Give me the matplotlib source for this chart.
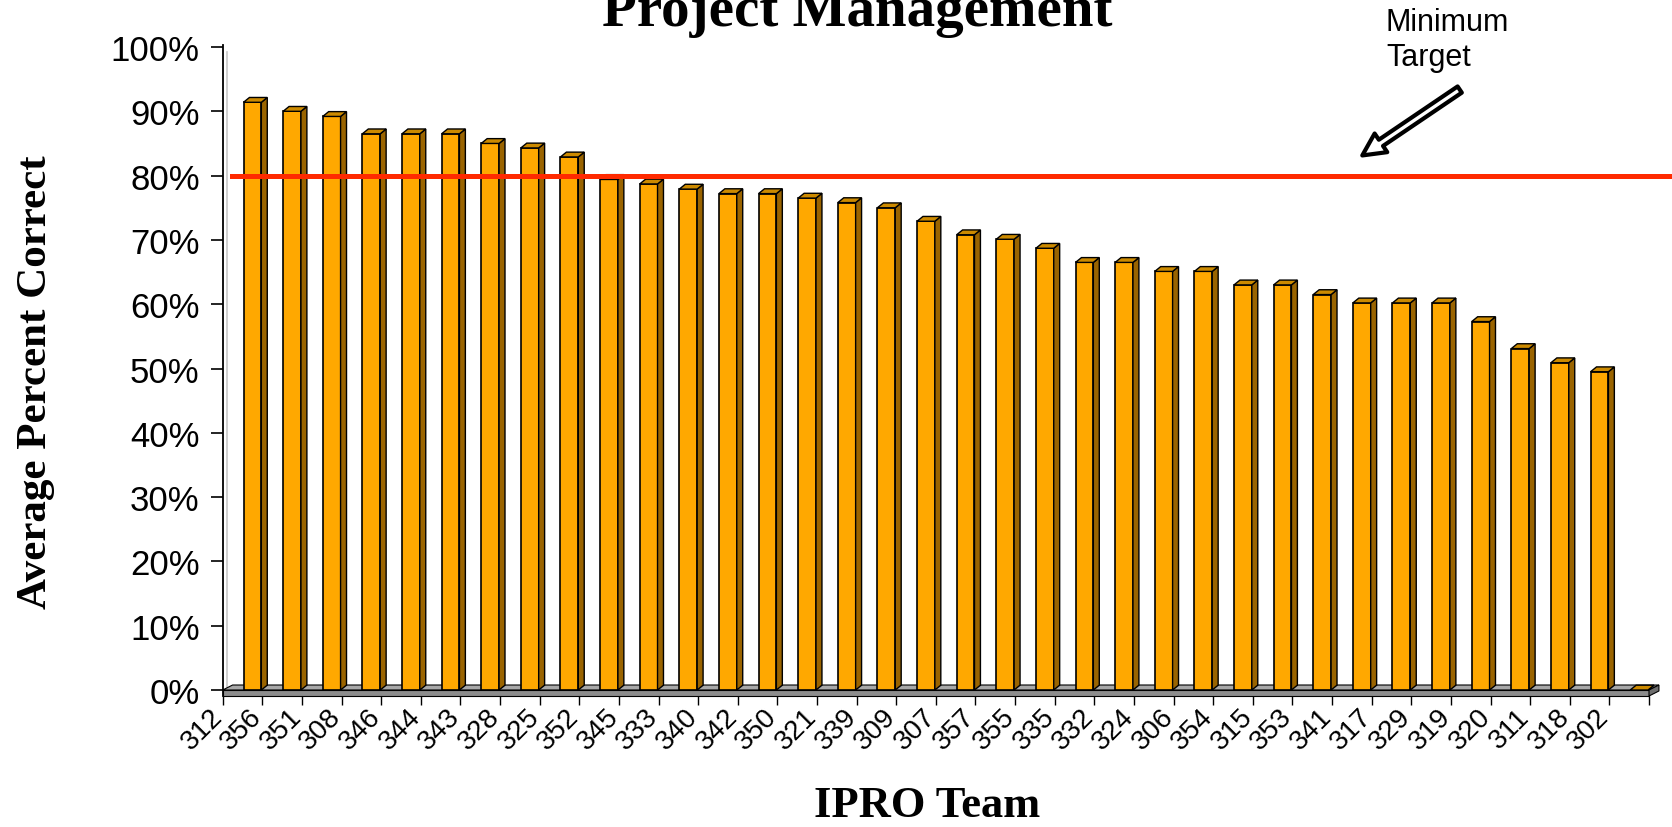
import matplotlib

matplotlib.use("Agg")
import matplotlib.pyplot as plt
import numpy as np
from matplotlib.patches import Polygon
from matplotlib.transforms import ScaledTranslation

# --- data --------------------------------------------------------------------
teams = ["312", "356", "351", "308", "346", "344", "343", "328", "325", "352",
         "345", "333", "340", "342", "350", "321", "339", "309", "307", "357",
         "355", "335", "332", "324", "306", "354", "315", "353", "341", "317",
         "329", "319", "320", "311", "318", "302"]
scores = [91.4, 90.0, 89.2, 86.5, 86.5, 86.5, 85.0, 84.3, 82.9, 79.4,
          78.7, 77.9, 77.2, 77.2, 76.5, 75.8, 75.0, 72.9, 70.8, 70.1,
          68.7, 66.5, 66.5, 65.1, 65.1, 63.0, 63.0, 61.5, 60.2, 60.2,
          60.2, 57.3, 53.1, 50.9, 49.5, 0.0]
target = 80
y_ticks = list(range(0, 101, 10))

SERIF = "Liberation Serif"
SANS = "Liberation Sans"
FRONT, SIDE, TOP = "#FFA800", "#9A6400", "#CC8A00"

W, H, DPI = 1672, 828, 100
fig = plt.figure(figsize=(W / DPI, H / DPI), dpi=DPI)
fig.patch.set_facecolor("white")

# axes box in pixels: y axis at x=222.7, floor bottom at y=697, top at y=46
left, right, top, bottom = 222.7, 1672, 46, 697
ax = fig.add_axes([left / W, 1 - bottom / H, (right - left) / W, (bottom - top) / H])

x = np.arange(len(teams))
vals = np.asarray(scores)
bw = 0.45           # front face width (category units)
ddx, ddy = 0.15, 0.75  # 3-D depth offset of the columns
t = 0.93            # floor thickness in %

# floor
x0, x1 = -0.75, len(teams) - 0.75
fdx, fdy = 0.25, 0.78
ax.add_patch(Polygon([(x0, 0), (x1, 0), (x1 + fdx, fdy), (x0 + fdx, fdy)],
                     closed=True, fc="#A8A8A8", ec="black", lw=0.8, zorder=1))
ax.add_patch(Polygon([(x0, 0), (x1, 0), (x1, -t), (x0, -t)],
                     closed=True, fc="#8C8C8C", ec="black", lw=0.8, zorder=1,
                     clip_on=False))
ax.add_patch(Polygon([(x1, 0), (x1 + fdx, fdy), (x1 + fdx, fdy - t), (x1, -t)],
                     closed=True, fc="#6E6E6E", ec="black", lw=0.8, zorder=1,
                     clip_on=False))

# back wall edge
ax.axvline(-0.65, ymin=0.01, ymax=0.99, color="#C8C8C8", lw=1.2, zorder=0)

# columns: front face + side + top
ax.bar(x, vals, width=bw, color=FRONT, edgecolor="black", lw=1.2, zorder=3)
for xi, h in zip(x, vals):
    r = xi + bw / 2
    l = xi - bw / 2
    ax.add_patch(Polygon([(r, 0), (r + ddx, ddy), (r + ddx, h + ddy), (r, h)],
                         closed=True, fc=SIDE, ec="black", lw=1.0, zorder=3))
    ax.add_patch(Polygon([(l, h), (r, h), (r + ddx, h + ddy), (l + ddx, h + ddy)],
                         closed=True, fc=TOP, ec="black", lw=1.0, zorder=3))

# minimum target line
ax.axhline(target, xmin=(232 - left) / (right - left), xmax=1,
           color="#FF2A00", lw=3.6, zorder=5, clip_on=False)

ax.set_xlim(x0, x0 + (right - left) / 39.62)
ax.set_ylim(-t, (691 - top) / 6.43)

for s in ("top", "right", "bottom"):
    ax.spines[s].set_visible(False)
ax.spines["left"].set_linewidth(1.3)

ax.set_yticks(y_ticks)
ax.set_yticklabels([f"{v}%" for v in y_ticks], fontsize=25, family=SANS)
ax.tick_params(axis="y", direction="out", length=8.6, width=1.2, pad=8)

ax.set_xticks(x)
ax.set_xticklabels(teams, fontsize=20, family=SANS, rotation=45,
                   ha="right", va="center", rotation_mode="anchor")
ax.set_xticks(np.arange(len(teams) + 1) - 0.75, minor=True)
ax.tick_params(axis="x", which="major", length=0, pad=12)
ax.tick_params(axis="x", which="minor", direction="out", length=6.5, width=1.0)
shift = ScaledTranslation(-34 / DPI, 0, fig.dpi_scale_trans)
for lbl in ax.get_xticklabels():
    lbl.set_transform(lbl.get_transform() + shift)

ax.set_facecolor("none")

# titles
fig.text(857 / W, 1 - 26 / H, "Project Management", ha="center", va="baseline",
         fontsize=41, family=SERIF, weight="bold")
fig.text(36 / W, 1 - 382 / H, "Average Percent Correct", rotation=90,
         ha="center", va="center", fontsize=31, family=SERIF, weight="bold")
fig.text(927 / W, 1 - 817 / H, "IPRO Team", ha="center", va="baseline",
         fontsize=32, family=SERIF, weight="bold")

# annotation
fig.text(1386 / W, 1 - 8 / H, "Minimum\nTarget", ha="left", va="top",
         fontsize=22, family=SANS, linespacing=1.22)
ax.annotate("", xy=(1360 / W, 1 - 158 / H), xytext=(1462 / W, 1 - 89 / H),
            xycoords="figure fraction", textcoords="figure fraction",
            arrowprops=dict(arrowstyle="simple,head_length=0.9,head_width=0.9,tail_width=0.3",
                            mutation_scale=18, fc="white", ec="black", lw=3))

fig.savefig("out.png", dpi=DPI)
